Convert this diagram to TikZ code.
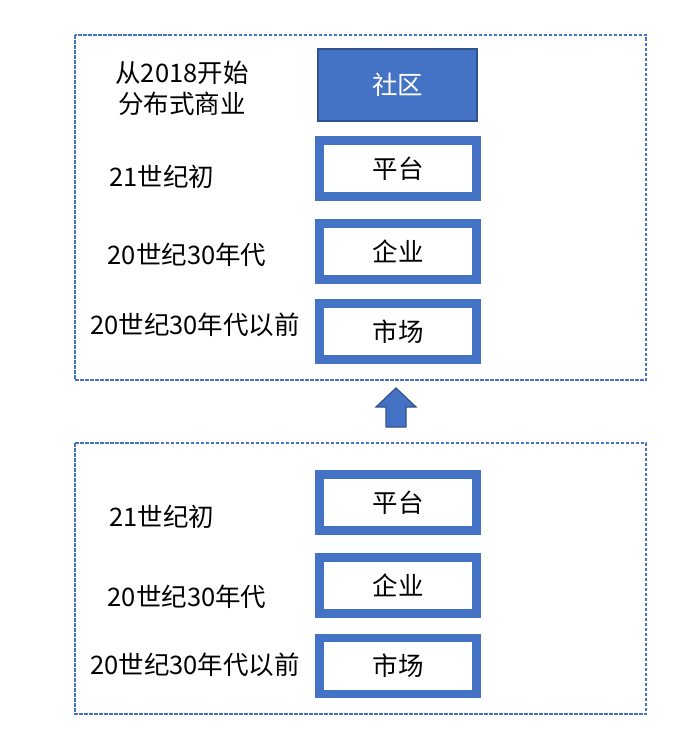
\documentclass[tikz,border=0pt]{standalone}
\usepackage{fontspec}
\setmainfont{Noto Sans CJK SC}
\definecolor{blu}{HTML}{4472C4}
\definecolor{dblu}{HTML}{2F528F}
\tikzset{
  frame/.style={draw=blu, dashed, dash pattern=on 3.5pt off 1.5pt, line width=1.3pt},
  stage/.style={draw=blu, line width=8.5pt, fill=white, minimum width=157pt, minimum height=56pt, inner sep=0pt, font=\fontsize{25.5}{28}\selectfont},
  comm/.style={draw=dblu, line width=1.5pt, fill=blu, text=white, minimum width=159pt, minimum height=72pt, inner sep=0pt, font=\fontsize{25.5}{28}\selectfont},
  lbl/.style={font=\fontsize{25.5}{31}\selectfont, align=center, inner sep=0pt},
  uparrow/.style={draw=dblu, line width=1.2pt, fill=blu, line join=miter}
}
\begin{document}
\begin{tikzpicture}[x=1pt,y=-1pt]
\useasboundingbox (0,0) rectangle (687,739);
\draw[frame] (75,35) rectangle (646,380);
\draw[frame] (75,443) rectangle (646,714);
% top group
\node[comm] (c) at (397.5,85) {社区};
\node[stage] (t1) at (398,168.5) {平台};
\node[stage] (t2) at (398,251.5) {企业};
\node[stage] (t3) at (398,331.5) {市场};
\node[lbl] (l0) at (182,88) {从2018开始\\分布式商业};
\node[lbl] (l1) at (162,177) {21世纪初};
\node[lbl] (l2) at (187,255) {20世纪30年代};
\node[lbl] (l3) at (195,325) {20世纪30年代以前};
% arrow
\draw[uparrow] (396,388) -- (416,407) -- (406,407) -- (406,427) -- (386,427) -- (386,407) -- (376,407) -- cycle;
% bottom group
\node[stage] (b1) at (398,502.5) {平台};
\node[stage] (b2) at (398,585.5) {企业};
\node[stage] (b3) at (398,666) {市场};
\node[lbl] (m1) at (162,517) {21世纪初};
\node[lbl] (m2) at (187,597) {20世纪30年代};
\node[lbl] (m3) at (195,665) {20世纪30年代以前};
\end{tikzpicture}
\end{document}
